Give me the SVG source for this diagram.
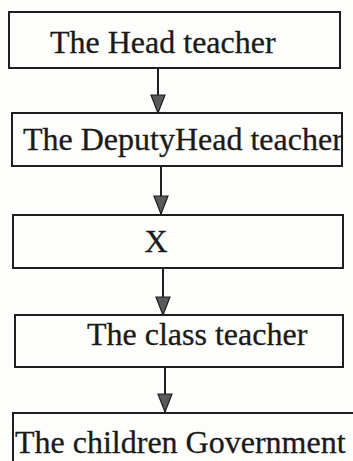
<svg xmlns="http://www.w3.org/2000/svg" width="353" height="461" viewBox="0 0 353 461">
  <style>
    .box { fill: none; stroke: #1e1e1e; stroke-width: 2; }
    .lbl { font-family: "Liberation Serif", "Times New Roman", serif; font-size: 32px; fill: #1a1a1a; stroke: #1a1a1a; stroke-width: 0.3; }
    .conn { stroke: #1e1e1e; stroke-width: 2; fill: none; }
  </style>
  <defs>
    <marker id="arr" markerUnits="userSpaceOnUse" markerWidth="20" markerHeight="16" viewBox="0 0 20 16" refX="19" refY="8" orient="auto">
      <path d="M1,1 L19,8 L1,15 Z" fill="#5a5a5a" stroke="#1e1e1e" stroke-width="1.2"/>
    </marker>
  </defs>
  <rect width="353" height="461" fill="#fdfdfb"/>

  <g id="connectors">
    <line class="conn" x1="158" y1="68" x2="158" y2="113" marker-end="url(#arr)"/>
    <line class="conn" x1="161" y1="166" x2="161" y2="214" marker-end="url(#arr)"/>
    <line class="conn" x1="163" y1="268" x2="163" y2="315" marker-end="url(#arr)"/>
    <line class="conn" x1="165" y1="367" x2="165" y2="412" marker-end="url(#arr)"/>
  </g>

  <g id="node-head">
    <rect class="box" x="9" y="12" width="331" height="56"/>
    <text class="lbl" x="50" y="53">The Head teacher</text>
  </g>
  <g id="node-deputy">
    <rect class="box" x="12" y="113" width="330" height="53"/>
    <text class="lbl" x="23" y="150">The DeputyHead teacher</text>
  </g>
  <g id="node-x">
    <rect class="box" x="13" y="215" width="330" height="53"/>
    <text class="lbl" x="156" y="252" text-anchor="middle">X</text>
  </g>
  <g id="node-class">
    <rect class="box" x="15" y="315" width="328" height="52"/>
    <text class="lbl" x="87" y="345">The class teacher</text>
  </g>
  <g id="node-children">
    <rect class="box" x="13" y="413" width="350" height="60"/>
    <text class="lbl" x="15" y="453">The children Government</text>
  </g>
</svg>
